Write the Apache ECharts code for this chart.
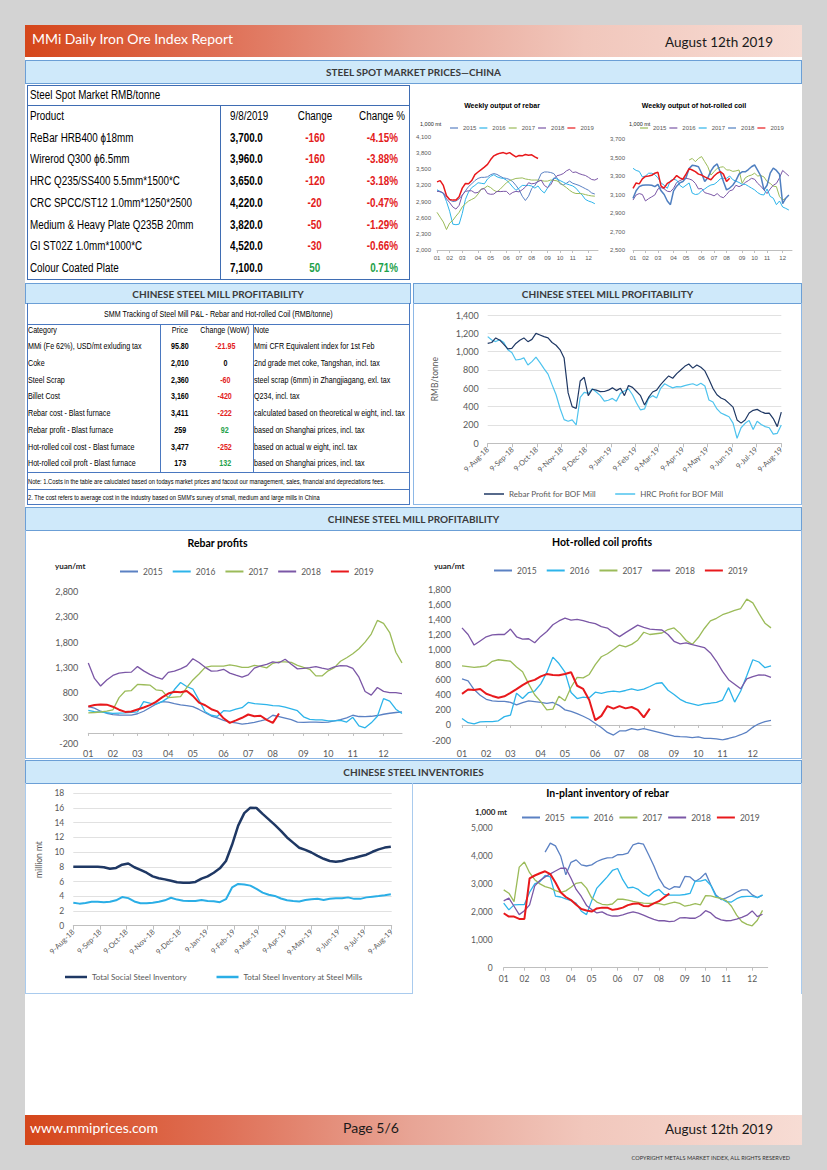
<!DOCTYPE html>
<html><head><meta charset="utf-8"><title>MMi Daily Iron Ore Index Report</title>
<script src="https://cdn.jsdelivr.net/npm/echarts@6.0.0/dist/echarts.min.js"></script>
<style>
*{box-sizing:border-box;}
html,body{margin:0;padding:0;}
body{width:827px;height:1170px;background:#d3d3d3;position:relative;overflow:hidden;font-family:Lato,"Open Sans",sans-serif;}
.a{position:absolute;}
.bar{background:linear-gradient(90deg,#d5461a 0%,#df6f55 25%,#e8a596 50%,#f1c7bc 72%,#f7dcd4 100%);}
.sec{position:absolute;background:#cfe9fa;border:1.5px solid #6b9fd6;color:#3a3a3a;font-weight:700;font-size:10px;display:flex;align-items:center;justify-content:center;}
.nar{font-family:"Liberation Sans Narrow","Arial Narrow","Liberation Sans",sans-serif;}
.cell{position:absolute;white-space:nowrap;}
.cell span{display:inline-block;transform:scaleX(0.82);}
.box{position:absolute;}
.ch{position:absolute;}
</style></head>
<body>
<div class="a" style="left:25px;top:25px;width:777px;height:1091px;background:#fff;"></div>
<div class="a bar" style="left:25px;top:25px;width:777px;height:32px;"></div>
<div class="a" style="left:32px;top:29px;font-size:14px;color:#fff;line-height:20px;">MMi Daily Iron Ore Index Report</div>
<div class="a" style="left:600px;width:173px;top:33px;font-size:13.5px;color:#1a1a1a;line-height:18px;text-align:right;">August 12th 2019</div>

<div class="sec" style="left:25px;top:60px;width:777px;height:24px;">STEEL SPOT MARKET PRICES—CHINA</div>
<div class="sec" style="left:25px;top:283px;width:386px;height:21px;">CHINESE STEEL MILL PROFITABILITY</div>
<div class="sec" style="left:413px;top:283px;width:389px;height:21px;">CHINESE STEEL MILL PROFITABILITY</div>
<div class="sec" style="left:25px;top:507px;width:777px;height:24px;">CHINESE STEEL MILL PROFITABILITY</div>
<div class="sec" style="left:25px;top:760px;width:777px;height:24px;">CHINESE STEEL INVENTORIES</div>

<div id="t1" class="nar"></div>
<div id="t2" class="nar"></div>

<div class="box" style="left:413px;top:303px;width:389px;height:202px;border:1.5px solid #8db8e6;border-top:none;"></div>
<div class="box" style="left:25px;top:530px;width:777px;height:229px;border:1.5px solid #8db8e6;border-top:none;"></div>
<div class="box" style="left:25px;top:783px;width:388px;height:211px;border:1.2px solid #a9cbee;border-top:none;"></div>
<div class="box" style="left:800.5px;top:783px;width:1.5px;height:211px;background:#a9cbee;"></div>

<div id="c1" class="ch" style="left:413px;top:85px;width:194px;height:195px;"></div>
<div id="c2" class="ch" style="left:607px;top:85px;width:195px;height:195px;"></div>
<div id="c3" class="ch" style="left:413px;top:303px;width:389px;height:202px;"></div>
<div id="c4" class="ch" style="left:25px;top:530px;width:387px;height:228px;"></div>
<div id="c5" class="ch" style="left:412px;top:530px;width:390px;height:228px;"></div>
<div id="c6" class="ch" style="left:25px;top:783px;width:388px;height:210px;"></div>
<div id="c7" class="ch" style="left:413px;top:783px;width:389px;height:210px;"></div>

<div class="a bar" style="left:25px;top:1115px;width:777px;height:30px;"></div>
<div class="a" style="left:30px;top:1119px;font-size:14px;color:#fff;line-height:18px;">www.mmiprices.com</div>
<div class="a" style="left:343px;top:1119px;font-size:14px;color:#1a1a1a;line-height:18px;">Page 5/6</div>
<div class="a" style="left:600px;width:173px;top:1120px;font-size:13.5px;color:#1a1a1a;line-height:18px;text-align:right;">August 12th 2019</div>
<div class="a" style="left:560px;width:230px;top:1154px;font-size:5.6px;color:#333;line-height:8px;text-align:right;">COPYRIGHT METALS MARKET INDEX, ALL RIGHTS RESERVED</div>

<script>
// ---------------- TABLE DATA ----------------
const spotTitle = 'Steel Spot Market RMB/tonne';
const spotHeader = ['Product','9/8/2019','Change','Change %'];
const spotProducts = ['ReBar HRB400 ϕ18mm','Wirerod Q300 ϕ6.5mm','HRC Q235/SS400 5.5mm*1500*C','CRC SPCC/ST12 1.0mm*1250*2500','Medium & Heavy Plate Q235B 20mm','GI ST02Z 1.0mm*1000*C','Colour Coated Plate'];
const spotPrices = ['3,700.0','3,960.0','3,650.0','4,220.0','3,820.0','4,520.0','7,100.0'];
const spotChange = [-160,-160,-120,-20,-50,-30,50];
const spotChangePct = ['-4.15%','-3.88%','-3.18%','-0.47%','-1.29%','-0.66%','0.71%'];

const pnlTitle = 'SMM Tracking of Steel Mill P&L - Rebar and Hot-rolled Coil (RMB/tonne)';
const pnlHeader = ['Category','Price','Change (WoW)','Note'];
const pnlCategories = ['MMi (Fe 62%), USD/mt exluding tax','Coke','Steel Scrap','Billet Cost','Rebar cost - Blast furnace','Rebar profit - Blast furnace','Hot-rolled coil cost - Blast furnace','Hot-rolled coil proft - Blast furnace'];
const pnlPrices = ['95.80','2,010','2,360','3,160','3,411','259','3,477','173'];
const pnlChange = ['-21.95','0','-60','-420','-222','92','-252','132'];
const pnlNotes = ['Mmi CFR Equivalent index for 1st Feb','2nd grade met coke, Tangshan, incl. tax','steel scrap (6mm) in Zhangjiagang, exl. tax','Q234, incl. tax','calculated based on theoretical w eight, incl. tax','based on Shanghai prices, incl. tax','based on actual w eight, incl. tax','based on Shanghai prices, incl. tax'];
const pnlFootnotes = ['Note: 1.Costs in the table are caluclated based on todays market prices and facout our management, sales, financial and depreciations fees.','2. The cost refers to average cost in the industry based on SMM\'s survey of small, medium and large mills in China'];

// ---------------- CHART DATA ----------------
const years = ['2015','2016','2017','2018','2019'];
const monthTicks = ['01','02','03','04','05','06','07','08','09','10','11','12'];
const monthStartDay = [0,31,59,90,120,151,181,212,243,273,304,334];

// Weekly output of rebar (1,000 mt), weekly from early Jan
const rebarOut2015 = [3100,3080,3060,3000,2930,2900,2910,2950,3020,3100,3180,3230,3290,3330,3350,3350,3360,3400,3420,3405,3370,3340,3330,3310,3270,3200,3120,3000,2920,3000,3140,3200,3290,3420,3450,3450,3440,3420,3340,3230,3210,3240,3280,3240,3220,3200,3170,3140,3110,3060,3040];
const rebarOut2016 = [3120,3085,3050,2900,2720,2480,2470,2480,2680,2940,3080,3160,3200,3250,3240,3230,3320,3370,3400,3360,3340,3330,3300,3240,3170,3110,3150,3200,3200,3200,3190,3150,3190,3110,3060,3150,3260,3340,3320,3290,3260,3230,3210,3190,3150,3080,3020,2940,2910,2890,2860];
const rebarOut2017 = [2700,2610,2520,2380,2500,2550,2630,2700,2800,2860,2910,2940,2970,3040,3130,3150,3190,3160,3110,3080,3130,3190,3250,3290,3310,3330,3335,3340,3320,3310,3300,3300,3300,3290,3280,3280,3300,3295,3285,3250,3200,3160,3110,3070,3050,3050,3045,3030,3015,3005,3000];
const rebarOut2018 = [3090,3090,3060,2950,2880,2800,2760,2830,3020,3090,3100,3100,3060,3070,3130,3140,3050,3035,3040,3090,3085,3090,3090,3030,3070,3090,3080,3120,3170,3250,3230,3240,3270,3300,3200,3160,3210,3320,3380,3395,3420,3470,3500,3440,3450,3420,3400,3385,3350,3310,3300,3330];
const rebarOut2019 = [3266,3290,3200,3010,2940,2927,2927,2990,3150,3235,3230,3290,3400,3450,3495,3540,3590,3680,3750,3779,3800,3810,3790,3810,3770,3730,3755,3750,3775,3760,3770,3730,3700];

// Weekly output of hot-rolled coil (1,000 mt)
const hrcOut2015 = [null,null,null,null,null,null,null,null,null,null,null,null,null,null,null,null,null,null,3473,3490,3455,3490,3510,3455,3400,3310,3347,3383,3395,3400,3365,3365,3350,3355,3365,3220,3280,3300,3310,3330,3300,3305,3290,3240,3220,3190,3185,3077,3040,3058];
const hrcOut2016 = [3040,3095,3110,3100,3030,3055,3075,3095,3160,3175,3160,3135,3130,3167,3230,3250,3265,3275,3268,3255,3220,3160,3165,3120,3110,3100,3085,3110,3078,3065,3100,3140,3150,3200,3185,3200,3230,3250,3275,3265,3220,3190,3150,3110,3160,3200,3220,3280,3360,3330,3300];
const hrcOut2017 = [3383,3360,3350,3290,3300,3330,3330,3315,3280,3225,3200,3167,3250,3265,3255,3200,3175,3200,3225,3115,3100,3105,3140,3160,3185,3203,3210,3235,3270,3275,3275,3300,3260,3245,3230,3210,3210,3190,3170,3150,3120,3100,3095,3160,3080,3060,2990,3030,2965,2950,2932];
const hrcOut2018 = [3058,3140,3185,3200,3203,3203,3200,3185,3210,3140,3100,3030,2990,3140,3190,3225,3240,3280,3380,3415,3410,3400,3330,3240,3280,3355,3405,3430,3340,3240,3150,3170,3200,3250,3320,3345,3345,3370,3400,3419,3360,3300,3150,3200,3330,3385,3360,3320,3000,3060,3095];
const hrcOut2019 = [3167,3225,3215,3270,3295,3300,3308,3330,3340,3190,3170,3220,3240,3265,3305,3280,3265,3320,3380,3365,3348,3320,3310,3290,3275,3260,3300,3330,3347,3320,3240,3275];

// Rebar / HRC profit for BOF mill (RMB/tonne), every 5 days from 9-Aug-18
const bofRebarProfit = [1091,1100,1150,1125,1080,1030,1036,1090,1125,1150,1109,1134,1200,1182,1164,1150,1100,1070,1020,930,550,400,380,680,720,520,590,580,564,565,580,605,575,600,520,630,610,565,520,418,500,560,580,640,690,735,710,760,800,840,865,820,855,830,790,700,600,530,495,475,436,395,255,220,255,330,360,370,345,327,330,270,182,340];
const bofHrcProfit = [1164,1127,1110,1130,1100,1020,990,909,915,932,855,891,940,880,815,755,640,530,380,258,240,255,200,500,555,545,595,560,520,460,470,490,460,545,570,595,530,440,364,375,490,520,495,600,650,625,605,618,615,630,640,650,630,655,625,473,450,375,330,310,290,220,55,170,218,250,150,240,205,182,170,100,109,200];

// Rebar profits (yuan/mt), weekly
const rebarProfit2015 = [522,490,430,390,362,355,353,353,380,430,500,570,620,610,580,555,541,520,465,400,335,300,250,215,197,175,188,210,238,267,350,325,295,262,215,208,215,212,208,215,237,265,300,350,325,321,330,345,370,390,405,416];
const rebarProfit2016 = [447,420,416,400,386,392,397,410,416,620,590,570,620,700,860,1000,920,870,650,420,350,330,440,430,470,500,604,580,572,560,541,535,510,478,440,320,270,258,258,240,240,250,215,310,140,100,200,330,680,630,470,384];
const rebarProfit2017 = [396,405,415,430,459,700,830,840,961,955,949,855,840,698,710,720,900,1050,1168,1300,1325,1325,1325,1350,1330,1300,1300,1340,1320,1290,1380,1410,1410,1400,1340,1300,1262,1130,1130,1231,1294,1420,1490,1570,1670,1800,1960,2230,2172,1990,1600,1388];
const rebarProfit2018 = [1388,1080,930,1050,1140,1185,1200,1205,1315,1230,1160,1106,1065,1200,1225,1270,1330,1470,1395,1300,1225,1230,1262,1185,1145,1106,1150,1285,1330,1357,1407,1390,1460,1360,1270,1280,1294,1315,1285,1262,1310,1335,1330,1280,1106,820,750,900,823,800,800,780];
const rebarProfit2019 = [522,555,562,560,520,460,416,425,465,505,550,615,705,780,815,805,830,735,600,548,470,428,290,200,248,300,365,330,340,260,200,384];

// Hot-rolled coil profits (yuan/mt), weekly
const hrcProfit2015 = [610,585,470,395,340,320,312,312,300,265,295,320,310,298,285,298,260,200,180,150,115,75,20,-35,-100,-134,-80,-80,-48,-65,-50,-70,-90,-110,-130,-150,-156,-158,-168,-158,-178,-178,-185,-198,-180,-160,-130,-95,-30,15,45,60];
const hrcProfit2016 = [85,30,15,40,45,45,55,110,130,420,350,430,450,545,697,900,815,700,430,350,370,360,435,420,440,450,440,457,478,460,475,510,550,560,460,405,340,300,280,260,280,288,300,330,495,303,450,653,865,835,760,785];
const hrcProfit2017 = [785,775,765,772,783,845,865,855,845,770,705,545,400,310,200,210,380,320,500,630,625,670,800,905,945,1000,1060,1035,1069,1125,1230,1200,1210,1220,1266,1287,1215,1120,1069,1160,1280,1380,1415,1463,1490,1520,1545,1670,1620,1480,1350,1288];
const hrcProfit2018 = [1288,1200,1060,1115,1170,1195,1200,1200,1272,1170,1140,1144,1090,1175,1240,1330,1380,1418,1390,1400,1385,1360,1345,1305,1285,1222,1172,1225,1275,1325,1295,1272,1266,1260,1200,1110,1075,1088,1067,1047,1027,955,845,710,600,540,480,610,640,665,660,632];
const hrcProfit2019 = [413,470,465,478,413,385,360,380,425,475,528,575,598,645,675,662,660,675,700,520,478,330,63,120,250,216,250,220,238,200,100,216];

// Steel inventories (million mt), weekly from 9-Aug-18
const socialInventory = [8.0,8.0,8.0,8.0,8.0,7.95,7.75,7.85,8.3,8.45,7.95,7.6,7.2,6.7,6.45,6.3,6.1,5.9,5.85,5.85,5.95,6.4,6.7,7.2,7.8,8.8,11.0,13.6,15.3,16.05,16.0,15.2,14.45,13.7,12.9,12.0,11.3,10.6,10.3,9.95,9.5,9.1,8.8,8.7,8.8,9.05,9.2,9.45,9.65,10.05,10.38,10.62,10.72];
const millInventory = [3.13,3.0,3.1,3.26,3.26,3.2,3.26,3.45,3.9,3.75,3.3,3.06,3.04,3.13,3.26,3.45,3.8,3.55,3.4,3.35,3.35,3.49,3.37,3.32,3.2,3.6,5.2,5.67,5.6,5.45,5.0,4.5,4.2,4.05,3.7,3.45,3.35,3.3,3.49,3.58,3.67,3.5,3.65,3.72,3.72,3.85,3.65,3.65,3.85,3.95,4.03,4.15,4.28];

// In-plant inventory of rebar (1,000 mt), weekly
const plantInv2015 = [null,null,null,null,null,null,null,null,4138,4461,4360,4000,3325,3770,3860,3680,3640,3680,3800,3880,3930,3940,4042,4050,4100,4400,4461,4420,4042,3650,3205,2900,2800,2900,2880,3265,3250,3086,3200,3385,2966,2600,2440,2500,2583,2700,2787,2787,2607,2511,2600];
const plantInv2016 = [2308,2069,2249,2260,2260,2700,3000,3080,3300,3250,2560,2530,2460,2400,2300,2020,1900,2400,2850,3050,3250,3480,3550,3150,2860,2880,2800,2650,2560,2720,2800,2620,2600,2600,2600,2620,2660,3100,3100,3150,2950,2550,2470,2360,2350,2470,2540,2550,2550,2510,2600];
const plantInv2017 = [2787,2667,2368,3600,3780,3400,3150,3000,2900,2850,2760,2700,2750,2880,3020,3050,2850,2500,2350,2270,2250,2280,2450,2450,2420,2370,2340,2310,2300,2300,2290,2250,2300,2350,2300,2200,2240,2290,2250,2580,2570,2520,2480,2400,2200,1880,1650,1550,1500,1700,2050];
const plantInv2018 = [2392,2488,2200,1900,2040,2250,2930,3120,3250,3360,3460,3560,3560,3200,2800,2550,2230,2080,1960,2000,1900,1850,1850,1890,1950,2000,1950,1880,1800,1730,1680,1680,1650,1670,1780,1790,1770,1770,1870,2040,1960,1790,1710,1680,1690,1740,1800,1880,2033,1830,1913];
const plantInv2019 = [1950,1830,1830,1746,1746,3200,3300,3380,3450,3350,3050,2700,2530,2420,2250,2100,2050,2010,2120,2150,2150,2070,2100,2150,2240,2290,2300,2210,2200,2300,2380,2520,2650];

// ---------------- TABLES ----------------
const esc = s => String(s).replace(/&/g,'&amp;');
function cell(left, top, lh, fs, text, o){
  o = o || {};
  const align = o.align || 'left';
  const w = o.width != null ? `width:${o.width}px;` : '';
  const origin = align==='left' ? 'left center' : (align==='right' ? 'right center' : 'center center');
  return `<div class="cell" style="left:${left}px;top:${top}px;${w}text-align:${align};line-height:${lh}px;font-size:${fs}px;font-weight:${o.bold?700:400};color:${o.color||'#000'};"><span style="transform-origin:${origin};">${esc(text)}</span></div>`;
}
(function(){
  const BL='#3f6db3';
  let h='';
  h+=`<div class="box" style="left:27px;top:85px;width:383px;height:21px;border:1.3px solid ${BL};"></div>`;
  h+=`<div class="box" style="left:27px;top:105px;width:383px;height:175px;border:1.3px solid ${BL};"></div>`;
  h+=`<div class="box" style="left:219.5px;top:105px;width:1.3px;height:175px;background:${BL};"></div>`;
  h+=cell(30,85,21,12,spotTitle);
  const rh=21.7, t0=106;
  const rowTop=i=>t0+i*rh;
  h+=cell(30,rowTop(0),rh,12,spotHeader[0]);
  h+=cell(230,rowTop(0),rh,12,spotHeader[1]);
  h+=cell(275,rowTop(0),rh,12,spotHeader[2],{width:80,align:'center'});
  h+=cell(335,rowTop(0),rh,12,spotHeader[3],{width:70,align:'right'});
  spotProducts.forEach((p,i)=>{
    const t=rowTop(i+1), col=spotChange[i]<0?'#e3201b':'#1ea14a';
    h+=cell(30,t,rh,12,p);
    h+=cell(230,t,rh,12,spotPrices[i],{bold:true});
    h+=cell(275,t,rh,12,spotChange[i],{width:80,align:'center',bold:true,color:col});
    h+=cell(330,t,rh,12,spotChangePct[i],{width:68,align:'right',bold:true,color:col});
  });
  document.getElementById('t1').innerHTML=h;

  const B2='#4a78c0';
  let g='';
  g+=`<div class="box" style="left:27px;top:303px;width:383px;height:202px;border:1px solid ${B2};border-top:none;"></div>`;
  g+=`<div class="box" style="left:27px;top:323.5px;width:383px;height:1px;background:${B2};"></div>`;
  g+=`<div class="box" style="left:27px;top:472px;width:383px;height:1px;background:${B2};"></div>`;
  g+=`<div class="box" style="left:27px;top:489px;width:383px;height:1px;background:${B2};"></div>`;
  g+=`<div class="box" style="left:160px;top:324px;width:1px;height:148px;background:${B2};"></div>`;
  g+=`<div class="box" style="left:252.5px;top:324px;width:1px;height:148px;background:${B2};"></div>`;
  g+=cell(27,305,18,8.7,pnlTitle,{width:383,align:'center'});
  const r2=16.7, c0=330;
  const rows=[pnlHeader].concat(pnlCategories.map((c,i)=>[c,pnlPrices[i],pnlChange[i],pnlNotes[i]]));
  rows.forEach((r,i)=>{
    const t=c0+i*r2-r2/2, hd=i===0;
    const v=parseFloat(r[2]);
    const col=hd?'#000':(v<0?'#e3201b':(v>0?'#1ea14a':'#000'));
    g+=cell(28,t,r2,8.7,r[0]);
    g+=cell(150,t,r2,8.7,r[1],{width:60,align:'center',bold:!hd});
    g+=cell(195,t,r2,8.7,r[2],{width:60,align:'center',bold:!hd,color:col});
    g+=cell(254,t,r2,8.7,r[3]);
  });
  g+=cell(28,474,15,7,pnlFootnotes[0]);
  g+=cell(28,490,15,7,pnlFootnotes[1]);
  document.getElementById('t2').innerHTML=g;
})();

// ---------------- CHART HELPERS ----------------
const fmt = v => String(v).replace(/\B(?=(\d{3})+(?!\d))/g, ',');
const weekCats = Array.from({length:52},(_,i)=>'W'+String(i+1).padStart(2,'0'));
const tickWeek = {};
monthStartDay.forEach((d,m)=>{ tickWeek[Math.round(d/7)] = monthTicks[m]; });
const mon = ['Jan','Feb','Mar','Apr','May','Jun','Jul','Aug','Sep','Oct','Nov','Dec'];
const dayCats = [];
for (let i=0;i<=365;i++){ const d=new Date(Date.UTC(2018,7,9+i)); dayCats.push(d.getUTCDate()+'-'+mon[d.getUTCMonth()]+'-'+String(d.getUTCFullYear()).slice(2)); }
const isNinth = i => dayCats[i] && dayCats[i].indexOf('9-')===0;

const ARIAL='"Liberation Sans", Arial, sans-serif';
const LATO='Lato, "Open Sans", sans-serif';
const COL = {c15:'#5b81c3', c16:'#2db4ea', c17:'#9bbb59', c18:'#7b57a6', c19:'#e8191c'};

function lineS(name,data,color,width,z){
  return {name,type:'line',data,symbol:'none',showSymbol:false,connectNulls:false,
    lineStyle:{color,width},itemStyle:{color},z:z||2,emphasis:{disabled:true}};
}
function monthAxis(fs,margin,ff){
  return {type:'category',data:weekCats,boundaryGap:false,
    axisLine:{show:true,onZero:true,lineStyle:{color:'#bfbfbf',width:1}},
    axisTick:{show:true,interval:(i)=>(i in tickWeek),length:3,lineStyle:{color:'#bfbfbf'}},
    axisLabel:{interval:(i)=>(i in tickWeek),formatter:(v,i)=>tickWeek[i]||'',fontSize:fs,color:'#595959',margin,fontFamily:ff},
    splitLine:{show:false}};
}
function dayAxis(fs){
  return {type:'category',data:dayCats,boundaryGap:false,
    axisLine:{show:true,lineStyle:{color:'#bfbfbf',width:1}},
    axisTick:{show:true,interval:(i)=>isNinth(i),length:4,lineStyle:{color:'#bfbfbf'}},
    axisLabel:{interval:(i)=>isNinth(i),rotate:45,fontSize:fs,color:'#595959',margin:5,fontFamily:LATO},
    splitLine:{show:false}};
}
function valAxis(min,max,interval,fs,margin,ff,split){
  return {type:'value',min,max,interval,
    axisLine:{show:false},axisTick:{show:false},
    splitLine:{show:!!split,lineStyle:{color:'#d9d9d9',width:0.8}},
    axisLabel:{fontSize:fs,color:'#595959',margin,fontFamily:ff,formatter:fmt}};
}
function legend(left,top,fs,iw,gap,ff,ih){
  return {left,top,icon:'rect',itemWidth:iw,itemHeight:ih||1.5,itemGap:gap,padding:0,selectedMode:false,
    textStyle:{fontSize:fs,color:'#595959',fontFamily:ff}};
}
function txt(x,y,text,font,align,fill){
  return {type:'text',x,y,silent:true,style:{text,font,fill:fill||'#000',align:align||'center',textAlign:align||'center',verticalAlign:'middle',textVerticalAlign:'middle'}};
}
function mk(id,opt){
  const c=echarts.init(document.getElementById(id),null,{renderer:'svg'});
  opt.animation=false;
  c.setOption(opt);
}

// ---------- Chart 1: Weekly output of rebar ----------
mk('c1',{
  textStyle:{fontFamily:ARIAL},
  grid:{left:24,right:9,top:52,bottom:30},
  graphic:[txt(89,20,'Weekly output of rebar','bold 7px '+ARIAL),txt(7,39,'1,000 mt','5.5px '+ARIAL,'left','#262626')],
  legend:legend(37,40,6,8,3,ARIAL,1.2),
  xAxis:monthAxis(6,5,ARIAL),
  yAxis:valAxis(2000,4100,300,6,6,ARIAL,false),
  series:[lineS(years[0],rebarOut2015,COL.c15,1),lineS(years[1],rebarOut2016,COL.c16,1),lineS(years[2],rebarOut2017,COL.c17,1),lineS(years[3],rebarOut2018,COL.c18,1),lineS(years[4],rebarOut2019,COL.c19,1.5,5)]
});

// ---------- Chart 2: Weekly output of hot-rolled coil ----------
mk('c2',{
  textStyle:{fontFamily:ARIAL},
  grid:{left:22,right:10,top:54,bottom:30},
  graphic:[txt(87,20,'Weekly output of hot-rolled coil','bold 7px '+ARIAL),txt(22,39,'1,000 mt','5.5px '+ARIAL,'left','#262626')],
  legend:legend(33,40,6,8,3,ARIAL,1.2),
  xAxis:monthAxis(6,5,ARIAL),
  yAxis:valAxis(2500,3700,200,6,8,ARIAL,false),
  series:[lineS(years[0],hrcOut2015,COL.c17,1),lineS(years[1],hrcOut2016,COL.c18,1),lineS(years[2],hrcOut2017,COL.c16,1),lineS(years[3],hrcOut2018,'#4f7fc0',1.5),lineS(years[4],hrcOut2019,COL.c19,1.5,5)]
});

// ---------- Chart 3: Rebar/HRC profit for BOF mill ----------
mk('c3',{
  textStyle:{fontFamily:LATO},
  grid:{left:74.7,right:20.7,top:12,bottom:61.7},
  legend:legend(71,187,8,20,19,LATO,1.5),
  xAxis:dayAxis(7.5),
  yAxis:Object.assign(valAxis(0,1400,200,9,9,LATO,true),{name:'RMB/tonne',nameLocation:'middle',nameRotate:90,nameGap:48,nameTextStyle:{fontSize:8.5,color:'#595959',fontFamily:LATO}}),
  series:[lineS('Rebar Profit for BOF Mill',bofRebarProfit.map((v,i)=>[i*5,v]),'#1f3864',1.2,3),lineS('HRC Profit for BOF Mill',bofHrcProfit.map((v,i)=>[i*5,v]),'#4ec3ee',1.2,2)]
});

// ---------- Chart 4: Rebar profits ----------
mk('c4',{
  textStyle:{fontFamily:LATO},
  grid:{left:63.3,right:10,top:61.7,bottom:7},
  graphic:[txt(192.5,13,'Rebar profits','bold 10.5px '+LATO),txt(30,36,'yuan/mt','bold 8px '+LATO,'left','#262626')],
  legend:legend(95,37,8.5,18,10,LATO,2),
  xAxis:monthAxis(9,6,LATO),
  yAxis:valAxis(-200,2800,500,9,10,LATO,false),
  series:[lineS(years[0],rebarProfit2015,COL.c15,1.3),lineS(years[1],rebarProfit2016,COL.c16,1.3),lineS(years[2],rebarProfit2017,COL.c17,1.3),lineS(years[3],rebarProfit2018,COL.c18,1.3),lineS(years[4],rebarProfit2019,COL.c19,2,5)]
});

// ---------- Chart 5: Hot-rolled coil profits ----------
mk('c5',{
  textStyle:{fontFamily:LATO},
  grid:{left:50,right:31,top:59.3,bottom:16.3},
  graphic:[txt(190,12,'Hot-rolled coil profits','bold 10.5px '+LATO),txt(22,36,'yuan/mt','bold 8px '+LATO,'left','#262626')],
  legend:legend(82,36,8.5,18,10,LATO,2),
  xAxis:monthAxis(9,9,LATO),
  yAxis:valAxis(-200,1800,200,9,11,LATO,false),
  series:[lineS(years[0],hrcProfit2015,COL.c15,1.3),lineS(years[1],hrcProfit2016,COL.c16,1.3),lineS(years[2],hrcProfit2017,COL.c17,1.3),lineS(years[3],hrcProfit2018,COL.c18,1.3),lineS(years[4],hrcProfit2019,COL.c19,2,5)]
});

// ---------- Chart 6: Steel inventories ----------
mk('c6',{
  textStyle:{fontFamily:LATO},
  grid:{left:48.3,right:21.3,top:10.3,bottom:67.3},
  legend:legend(40,190,8,22,30,LATO,2.5),
  xAxis:dayAxis(7.5),
  yAxis:Object.assign(valAxis(0,18,2,8.5,9,LATO,true),{name:'million mt',nameLocation:'middle',nameRotate:90,nameGap:18,nameTextStyle:{fontSize:8.5,color:'#595959',fontFamily:LATO}}),
  series:[lineS('Total Social Steel Inventory',socialInventory.map((v,i)=>[i*7,v]),'#1f3864',2.5,3),lineS('Total Steel Inventory at Steel Mills',millInventory.map((v,i)=>[i*7,v]),'#2aaee6',2,2)]
});

// ---------- Chart 7: In-plant inventory of rebar ----------
mk('c7',{
  textStyle:{fontFamily:LATO},
  grid:{left:90.7,right:34.3,top:45,bottom:25.3},
  graphic:[txt(194.5,10,'In-plant inventory of rebar','bold 10.5px '+LATO),txt(62,29,'1,000 mt','bold 8px '+LATO,'left','#262626')],
  legend:legend(109,30,8.5,18,6,LATO,2),
  xAxis:monthAxis(8.5,7,LATO),
  yAxis:valAxis(0,5000,1000,8.5,11,LATO,false),
  series:[lineS(years[0],plantInv2015,COL.c15,1.3),lineS(years[1],plantInv2016,COL.c16,1.3),lineS(years[2],plantInv2017,COL.c17,1.3),lineS(years[3],plantInv2018,COL.c18,1.3),lineS(years[4],plantInv2019,COL.c19,2,5)]
});
</script>
</body></html>
